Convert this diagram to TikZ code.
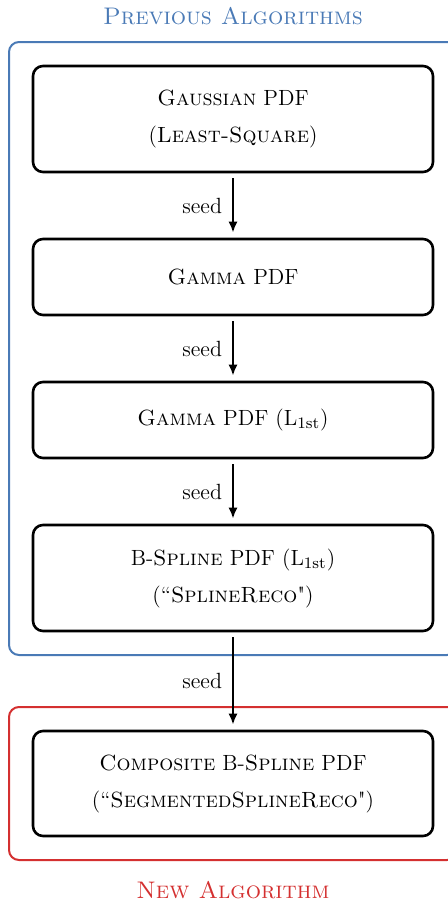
\documentclass[tikz,border=0pt]{standalone}
\usetikzlibrary{arrows.meta}
\definecolor{prevblue}{RGB}{74,122,182}
\definecolor{newred}{RGB}{212,48,48}
\begin{document}
\begin{tikzpicture}[x=0.5pt,y=-0.5pt,
  algobox/.style={draw=black, line width=1.3pt, rounded corners=5pt, minimum width=200pt, align=center, font=\fontsize{11}{18.5}\selectfont, inner sep=0pt},
  arr/.style={-{Latex[length=5.5pt,width=4.5pt]}, line width=1pt, shorten <=2.5pt, shorten >=2.5pt},
  seedlabel/.style={left, font=\fontsize{11}{13}\selectfont, inner sep=0pt, xshift=-5pt},
  groupframe/.style={line width=1pt, rounded corners=5pt},
  grouptitle/.style={anchor=base, font=\fontsize{12}{15}\selectfont, inner sep=0pt}
]
\useasboundingbox (0,0) rectangle (448,902);
\clip (0,0) rectangle (448,902);

\draw[groupframe, draw=prevblue] (9,42) rectangle (457,655);
\draw[groupframe, draw=newred] (9,707) rectangle (457,860);

\node[grouptitle, text=prevblue] (ttlprev) at (233,24) {\textsc{Previous Algorithms}};
\node[grouptitle, text=newred] (ttlnew) at (233,898) {\textsc{New Algorithm}};

\node[algobox, minimum height=53pt] (b1) at (233,119) {\textsc{Gaussian} PDF\\(\textsc{Least-Square})};
\node[algobox, minimum height=38pt] (b2) at (233,277) {\textsc{Gamma} PDF};
\node[algobox, minimum height=38pt] (b3) at (233,420) {\textsc{Gamma} PDF (L$_{\mathrm{1st}}$)};
\node[algobox, minimum height=53pt] (b4) at (233,578) {B-\textsc{Spline} PDF (L$_{\mathrm{1st}}$)\\(“\textsc{SplineReco}\textquotedbl)};
\node[algobox, minimum height=52.5pt] (b5) at (233,783.5) {\textsc{Composite} B-\textsc{Spline} PDF\\(“\textsc{SegmentedSplineReco}\textquotedbl)};

\draw[arr] (b1) -- (b2) node[midway, seedlabel] {seed};
\draw[arr] (b2) -- (b3) node[midway, seedlabel] {seed};
\draw[arr] (b3) -- (b4) node[midway, seedlabel] {seed};
\draw[arr] (b4) -- (b5) node[midway, seedlabel] {seed};
\end{tikzpicture}
\end{document}
